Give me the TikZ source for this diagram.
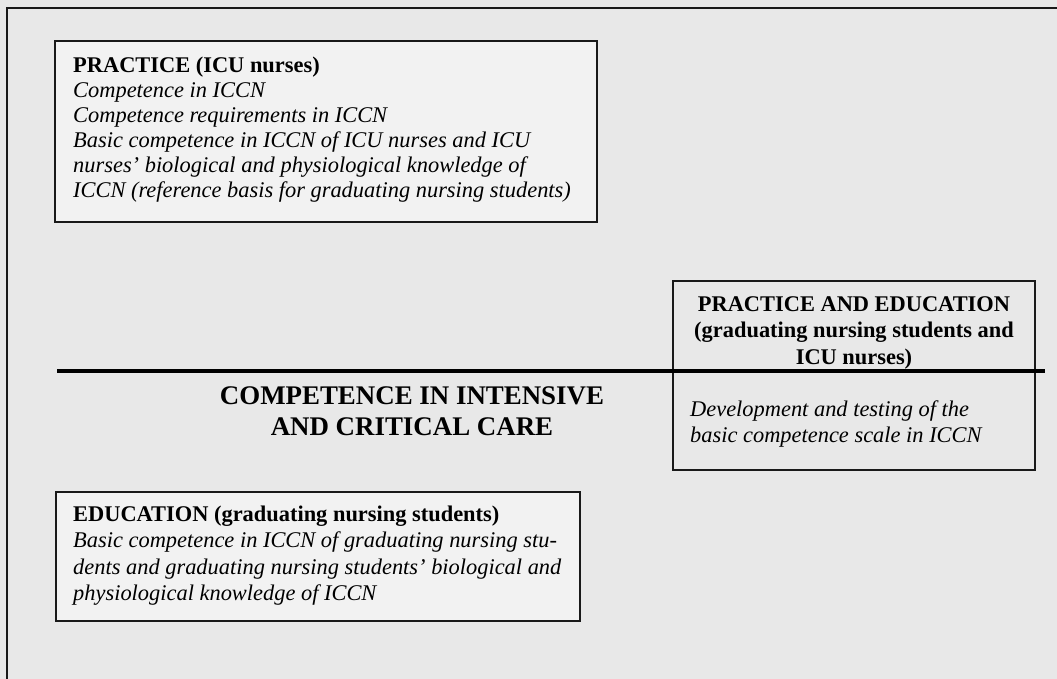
\documentclass[tikz,border=0pt]{standalone}
\usepackage{fontspec}
\setmainfont{Liberation Serif}
\definecolor{bggray}{HTML}{E8E8E8}
\definecolor{boxgray}{HTML}{F2F2F2}
\begin{document}
\begin{tikzpicture}[x=1bp,y=-1bp,
  lightbox/.style={draw=black!90, line width=1.5bp, fill=boxgray, anchor=north west, inner sep=0, outer sep=0},
  plainbox/.style={draw=black!90, line width=1.5bp, anchor=north west, inner sep=0, outer sep=0},
  bodytext/.style={anchor=base west, inner sep=0, align=left, font=\fontsize{22.5}{25.1}\selectfont},
  headtext/.style={anchor=base, inner sep=0, align=center, font=\fontsize{22.5}{26.2}\selectfont\bfseries},
  titletext/.style={anchor=base, inner sep=0, align=center, font=\fontsize{27}{30.2}\selectfont\bfseries}]
\useasboundingbox (0,0) rectangle (1057,679);
\fill[bggray] (0,0) rectangle (1057,679);
\draw[line width=2bp, black!90] (7,679) -- (7,8) -- (1057,8);
% practice box
\node[lightbox, minimum width=542bp, minimum height=181bp] (prac) at (55,41) {};
\node[bodytext] (practxt) at (73,197.3) {\textbf{PRACTICE (ICU nurses)}\\
\textit{Competence in ICCN}\\
\textit{Competence requirements in ICCN}\\
\textit{Basic competence in ICCN of ICU nurses and ICU}\\
\textit{nurses' biological and physiological knowledge of}\\
\textit{ICCN (reference basis for graduating nursing students)}};
% practice and education box
\node[plainbox, minimum width=362bp, minimum height=189bp] (pe) at (673,281) {};
\node[headtext] (pehead) at (854,364) {PRACTICE AND EDUCATION\\(graduating nursing students and\\ICU nurses)};
\node[bodytext, font=\fontsize{22.5}{26.7}\selectfont] (petxt) at (690,442.7) {\textit{Development and testing of the}\\
\textit{basic competence scale in ICCN}};
% divider
\coordinate (divl) at (57,371);
\coordinate (divr) at (1045,371);
\draw[line width=4bp] (divl) -- (divr);
% title
\node[titletext] (title) at (412,435) {COMPETENCE IN INTENSIVE\\AND CRITICAL CARE};
% education box
\node[lightbox, minimum width=524bp, minimum height=129bp] (edu) at (56,492) {};
\node[bodytext, font=\fontsize{22.5}{26.1}\selectfont] (edutxt) at (73,600) {\textbf{EDUCATION (graduating nursing students)}\\
\textit{Basic competence in ICCN of graduating nursing stu-}\\
\textit{dents and graduating nursing students' biological and}\\
\textit{physiological knowledge of ICCN}};
\end{tikzpicture}
\end{document}
